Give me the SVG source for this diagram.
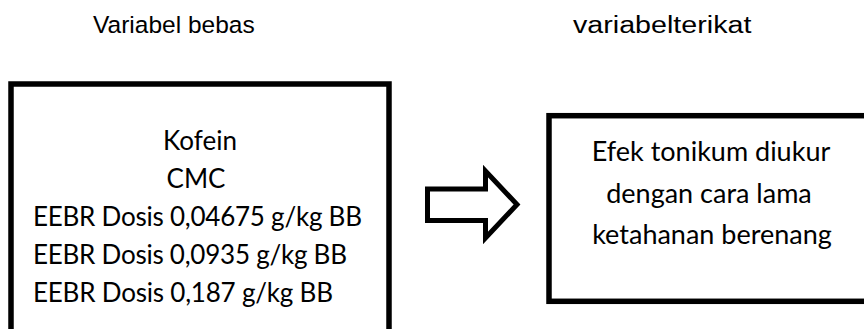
<svg xmlns="http://www.w3.org/2000/svg" width="864" height="329" viewBox="0 0 864 329">
<style>
.hdr{font-family:"Liberation Sans",Arial,sans-serif;font-size:24.5px;fill:#000}
.body{font-family:Lato,"Open Sans",sans-serif;font-size:26px;fill:#000}
.mid{text-anchor:middle}
.rt{font-size:27px}
.box{fill:#fff;stroke:#000;stroke-width:5.5}
.arrow{fill:#fff;stroke:#000;stroke-width:5;stroke-linejoin:miter}
</style>
<rect width="864" height="329" fill="#fff"/>
<g id="header-left"><text class="hdr" x="93" y="32.5">Variabel bebas</text></g>
<g id="header-right"><text class="hdr" transform="translate(573,32.5) scale(1.17,1)">variabelterikat</text></g>
<g id="box-left">
<rect class="box" x="11" y="84" width="378" height="270"/>
<text class="body mid" x="200" y="150">Kofein</text>
<text class="body mid" x="196" y="188">CMC</text>
<text class="body" x="33" y="226" textLength="329">EEBR Dosis 0,04675 g/kg BB</text>
<text class="body" x="33" y="264" textLength="314">EEBR Dosis 0,0935 g/kg BB</text>
<text class="body" x="33" y="302" textLength="300">EEBR Dosis 0,187 g/kg BB</text>
</g>
<g id="connectors">
<polygon class="arrow" points="427.5,189 485.5,189 485.5,171 517,204.5 485.5,238 485.5,220.5 427.5,220.5"/>
</g>
<g id="box-right">
<rect class="box" x="549" y="115.7" width="340" height="185.6"/>
<text class="body mid rt" x="711" y="161">Efek tonikum diukur</text>
<text class="body mid rt" x="709" y="203">dengan cara lama</text>
<text class="body mid rt" x="712" y="244">ketahanan berenang</text>
</g>
</svg>
